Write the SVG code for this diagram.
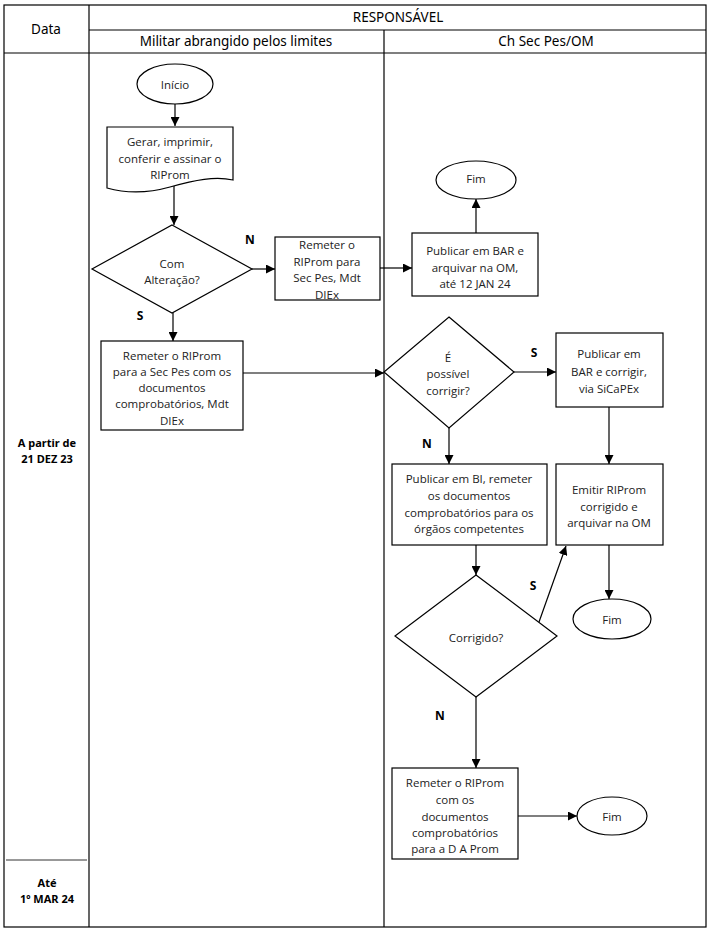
<svg xmlns="http://www.w3.org/2000/svg" width="711" height="931" viewBox="0 0 711 931">
<style>
.frame{fill:none;stroke:#000;stroke-width:1.2}
.shape{fill:#fff;stroke:#000;stroke-width:1.2}
.conn{fill:none;stroke:#000;stroke-width:1.2}
.hd{font-family:"Noto Sans","Liberation Sans",sans-serif;font-size:13.5px;fill:#000;text-anchor:middle;dominant-baseline:central}
.dt{font-family:"Noto Sans","Liberation Sans",sans-serif;font-size:11px;font-weight:bold;fill:#000;text-anchor:middle;dominant-baseline:central}
.tx{font-family:"Open Sans","Noto Sans",sans-serif;font-size:11.5px;fill:#222;text-anchor:middle;dominant-baseline:central}
.lb{font-family:"Open Sans","Noto Sans",sans-serif;font-size:12px;font-weight:bold;fill:#000;text-anchor:middle;dominant-baseline:central}
</style>
<defs>
<marker id="arr" markerUnits="userSpaceOnUse" markerWidth="9" markerHeight="9" refX="9" refY="4.5" orient="auto">
<path d="M0,0 L9,4.5 L0,9 z" fill="#000"/>
</marker>
</defs>
<rect width="711" height="931" fill="#fff"/>

<g id="table">
<rect class="frame" x="4" y="5" width="702" height="922"/>
<line class="frame" x1="89" y1="5" x2="89" y2="927"/>
<line class="frame" x1="89" y1="30" x2="706" y2="30"/>
<line class="frame" x1="4" y1="53" x2="706" y2="53"/>
<line class="frame" x1="384" y1="30" x2="384" y2="927"/>
<line x1="6" y1="860" x2="87" y2="860" stroke="#333" stroke-width="1"/>
<text class="hd" x="46" y="29">Data</text>
<text class="hd" x="398" y="17">RESPONSÁVEL</text>
<text class="hd" x="236" y="41">Militar abrangido pelos limites</text>
<text class="hd" x="546" y="41">Ch Sec Pes/OM</text>
<text class="dt" x="47" y="442">A partir de</text>
<text class="dt" x="47" y="458">21 DEZ 23</text>
<text class="dt" x="47" y="882">Até</text>
<text class="dt" x="47" y="898">1º MAR 24</text>
</g>

<g id="connectors">
<line class="conn" x1="175" y1="104" x2="175" y2="126" marker-end="url(#arr)"/>
<line class="conn" x1="174" y1="186" x2="174" y2="225" marker-end="url(#arr)"/>
<line class="conn" x1="252" y1="269" x2="275" y2="269" marker-end="url(#arr)"/>
<line class="conn" x1="380" y1="268" x2="412" y2="268" marker-end="url(#arr)"/>
<line class="conn" x1="476" y1="233" x2="476" y2="199" marker-end="url(#arr)"/>
<line class="conn" x1="173" y1="313" x2="173" y2="341" marker-end="url(#arr)"/>
<line class="conn" x1="243" y1="373" x2="384" y2="373" marker-end="url(#arr)"/>
<line class="conn" x1="514" y1="372" x2="556" y2="372" marker-end="url(#arr)"/>
<line class="conn" x1="609" y1="407" x2="609" y2="464" marker-end="url(#arr)"/>
<line class="conn" x1="449" y1="428" x2="449" y2="464" marker-end="url(#arr)"/>
<line class="conn" x1="476" y1="545" x2="476" y2="575" marker-end="url(#arr)"/>
<line class="conn" x1="539" y1="622" x2="566" y2="546" marker-end="url(#arr)"/>
<line class="conn" x1="609" y1="545" x2="609" y2="599" marker-end="url(#arr)"/>
<line class="conn" x1="476" y1="697" x2="476" y2="768" marker-end="url(#arr)"/>
<line class="conn" x1="518" y1="816" x2="577" y2="816" marker-end="url(#arr)"/>
<text class="lb" x="250" y="239">N</text>
<text class="lb" x="140" y="315">S</text>
<text class="lb" x="534" y="352">S</text>
<text class="lb" x="427" y="443">N</text>
<text class="lb" x="533" y="585">S</text>
<text class="lb" x="440" y="715">N</text>
</g>

<g id="inicio">
<ellipse class="shape" cx="175" cy="84" rx="38" ry="20"/>
<text class="tx" x="175" y="84">Início</text>
</g>

<g id="gerar">
<path class="shape" d="M107,127 L233,127 L233,180 C215,176 195,180 170,187 C145,194 125,193 107,188 Z"/>
<text class="tx" x="170" y="141">Gerar, imprimir,</text>
<text class="tx" x="170" y="158">conferir e assinar o</text>
<text class="tx" x="170" y="174">RIProm</text>
</g>

<g id="com-alteracao">
<polygon class="shape" points="172,225 252,269 172,313 92,269"/>
<text class="tx" x="172" y="263">Com</text>
<text class="tx" x="172" y="279">Alteração?</text>
</g>

<g id="remeter-sec">
<rect class="shape" x="275" y="237" width="105" height="63"/>
<text class="tx" x="327" y="244">Remeter o</text>
<text class="tx" x="327" y="261">RIProm para</text>
<text class="tx" x="327" y="277">Sec Pes, Mdt</text>
<text class="tx" x="327" y="294">DIEx</text>
</g>

<g id="remeter-docs">
<rect class="shape" x="101" y="341" width="142" height="89"/>
<text class="tx" x="172" y="355">Remeter o RIProm</text>
<text class="tx" x="172" y="371">para a Sec Pes com os</text>
<text class="tx" x="172" y="387">documentos</text>
<text class="tx" x="172" y="403">comprobatórios, Mdt</text>
<text class="tx" x="172" y="420">DIEx</text>
</g>

<g id="fim1">
<ellipse class="shape" cx="476" cy="180" rx="40" ry="19"/>
<text class="tx" x="476" y="178">Fim</text>
</g>

<g id="publicar-bar">
<rect class="shape" x="412" y="233" width="126" height="63"/>
<text class="tx" x="475" y="250">Publicar em BAR e</text>
<text class="tx" x="475" y="267">arquivar na OM,</text>
<text class="tx" x="475" y="283">até 12 JAN 24</text>
</g>

<g id="possivel-corrigir">
<polygon class="shape" points="449,317 514,372 449,428 384,372"/>
<text class="tx" x="448" y="357">É</text>
<text class="tx" x="448" y="373">possível</text>
<text class="tx" x="448" y="390">corrigir?</text>
</g>

<g id="publicar-corrigir">
<rect class="shape" x="556" y="333" width="107" height="74"/>
<text class="tx" x="609" y="353">Publicar em</text>
<text class="tx" x="609" y="371">BAR e corrigir,</text>
<text class="tx" x="609" y="388">via SiCaPEx</text>
</g>

<g id="publicar-bi">
<rect class="shape" x="392" y="464" width="155" height="81"/>
<text class="tx" x="469" y="478">Publicar em BI, remeter</text>
<text class="tx" x="469" y="495">os documentos</text>
<text class="tx" x="469" y="512">comprobatórios para os</text>
<text class="tx" x="469" y="528">órgãos competentes</text>
</g>

<g id="emitir">
<rect class="shape" x="556" y="464" width="107" height="81"/>
<text class="tx" x="609" y="489">Emitir RIProm</text>
<text class="tx" x="609" y="506">corrigido e</text>
<text class="tx" x="609" y="522">arquivar na OM</text>
</g>

<g id="fim2">
<ellipse class="shape" cx="612" cy="619" rx="39" ry="20"/>
<text class="tx" x="612" y="619">Fim</text>
</g>

<g id="corrigido">
<polygon class="shape" points="476,575 557,636 476,697 395,636"/>
<text class="tx" x="476" y="637">Corrigido?</text>
</g>

<g id="remeter-dprom">
<rect class="shape" x="392" y="768" width="126" height="91"/>
<text class="tx" x="455" y="782">Remeter o RIProm</text>
<text class="tx" x="455" y="799">com os</text>
<text class="tx" x="455" y="816">documentos</text>
<text class="tx" x="455" y="832">comprobatórios</text>
<text class="tx" x="455" y="848">para a D A Prom</text>
</g>

<g id="fim3">
<ellipse class="shape" cx="612" cy="816" rx="35" ry="19"/>
<text class="tx" x="612" y="816">Fim</text>
</g>
</svg>
